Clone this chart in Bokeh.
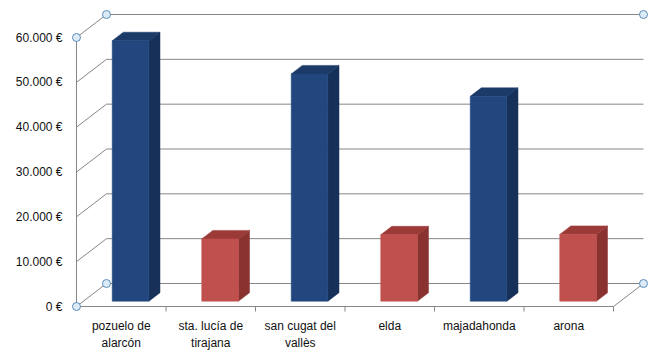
from bokeh.plotting import figure
from bokeh.models import FixedTicker, Range1d
from bokeh.embed import file_html
from bokeh.resources import INLINE

# ---- data ----
categories = ["pozuelo de\nalarcón", "sta. lucía de\ntirajana", "san cugat del\nvallès",
              "elda", "majadahonda", "arona"]
values = [58100, 13900, 50700, 14800, 45700, 14900]
bar_kind = ["blue", "red", "blue", "red", "blue", "red"]
y_ticks = [0, 10000, 20000, 30000, 40000, 50000, 60000]
y_tick_labels = ["0 €", "10.000 €", "20.000 €", "30.000 €", "40.000 €", "50.000 €", "60.000 €"]

# ---- style / projection ----
face = {"blue": ("#21477E", "#16305A", "#1B3A68"),
        "red": ("#C0504D", "#8A3230", "#9C3A38")}
DX, DY = 0.335, 5130.0          # oblique depth offset (category units, value units)
D0, D1 = 0.23, 0.60             # bar depth span
BAR_X0, BAR_W = 0.322, 0.41
TICK_LEN = 1115.0
GRID = "#868686"

def proj(x, v, d):
    return x + d * DX, v + d * DY

n = len(categories)
p = figure(width=667, height=353, output_backend="svg", toolbar_location=None,
           x_range=Range1d(-0.067, 6.525), y_range=Range1d(-2007, 67138),
           min_border_left=70, min_border_right=7, min_border_top=5, min_border_bottom=38)
p.outline_line_color = None
p.xgrid.visible = False
p.ygrid.visible = False
p.background_fill_color = "white"
p.border_fill_color = "white"

# y axis (labels only)
p.yaxis.ticker = FixedTicker(ticks=y_ticks)
p.yaxis.major_label_overrides = {t: l for t, l in zip(y_ticks, y_tick_labels)}
p.yaxis.axis_line_color = None
p.yaxis.major_tick_line_color = None
p.yaxis.minor_tick_line_color = None
p.yaxis.major_tick_out = 0
p.yaxis.major_tick_in = 0
p.yaxis.major_label_standoff = 8
p.yaxis.major_label_text_font = "Liberation Sans"
p.yaxis.major_label_text_font_size = "12px"
p.yaxis.major_label_text_color = "#111111"

# x axis (labels only)
centers = [i + 0.5 for i in range(n)]
p.xaxis.ticker = FixedTicker(ticks=centers)
p.xaxis.major_label_overrides = {c: l for c, l in zip(centers, categories)}
p.xaxis.axis_line_color = None
p.xaxis.major_tick_line_color = None
p.xaxis.minor_tick_line_color = None
p.xaxis.major_tick_out = 0
p.xaxis.major_tick_in = 0
p.xaxis.major_label_standoff = 3
p.xaxis.major_label_text_font = "Liberation Sans"
p.xaxis.major_label_text_font_size = "12px"
p.xaxis.major_label_text_line_height = 1.25
p.xaxis.major_label_text_color = "#111111"

# ---- walls / grid ----
xs0, ys0, xs1, ys1 = [], [], [], []
for t in y_ticks:
    a = proj(0, t, 1); b = proj(n, t, 1)          # back wall
    xs0 += [a[0]]; ys0 += [a[1]]; xs1 += [b[0]]; ys1 += [b[1]]
    a = proj(0, t, 0); b = proj(0, t, 1)          # side wall
    xs0 += [a[0]]; ys0 += [a[1]]; xs1 += [b[0]]; ys1 += [b[1]]
# front vertical axis
a = proj(0, 0, 0); b = proj(0, y_ticks[-1], 0)
xs0 += [a[0]]; ys0 += [a[1]]; xs1 += [b[0]]; ys1 += [b[1]]
# floor front edge + right edge
a = proj(0, 0, 0); b = proj(n, 0, 0)
xs0 += [a[0]]; ys0 += [a[1]]; xs1 += [b[0]]; ys1 += [b[1]]
a = proj(n, 0, 0); b = proj(n, 0, 1)
xs0 += [a[0]]; ys0 += [a[1]]; xs1 += [b[0]]; ys1 += [b[1]]
# category ticks
for i in range(1, n + 1):
    xs0 += [i]; ys0 += [0]; xs1 += [i]; ys1 += [-TICK_LEN]
p.segment(x0=xs0, y0=ys0, x1=xs1, y1=ys1, line_color=GRID, line_width=1)

# ---- bars ----
for i, (v, k) in enumerate(zip(values, bar_kind)):
    xl = i + BAR_X0
    xr = xl + BAR_W
    fc, sc, tc = face[k]
    side = [proj(xr, 0, D0), proj(xr, 0, D1), proj(xr, v, D1), proj(xr, v, D0)]
    top = [proj(xl, v, D0), proj(xr, v, D0), proj(xr, v, D1), proj(xl, v, D1)]
    front = [proj(xl, 0, D0), proj(xr, 0, D0), proj(xr, v, D0), proj(xl, v, D0)]
    for poly, col in ((side, sc), (top, tc), (front, fc)):
        p.patch([q[0] for q in poly], [q[1] for q in poly], fill_color=col,
                line_color=col, line_width=0.5)

# ---- corner handles ----
corners = [proj(0, 0, 0), proj(0, 0, 1), proj(0, y_ticks[-1], 0), proj(0, y_ticks[-1], 1),
           proj(n, y_ticks[-1], 1), proj(n, 0, 1)]
p.scatter([c[0] for c in corners], [c[1] for c in corners], size=8, marker="circle",
          fill_color="#DCEBF7", line_color="#5B8DB8", line_width=1)

open("out.html", "w").write(file_html(p, INLINE))
